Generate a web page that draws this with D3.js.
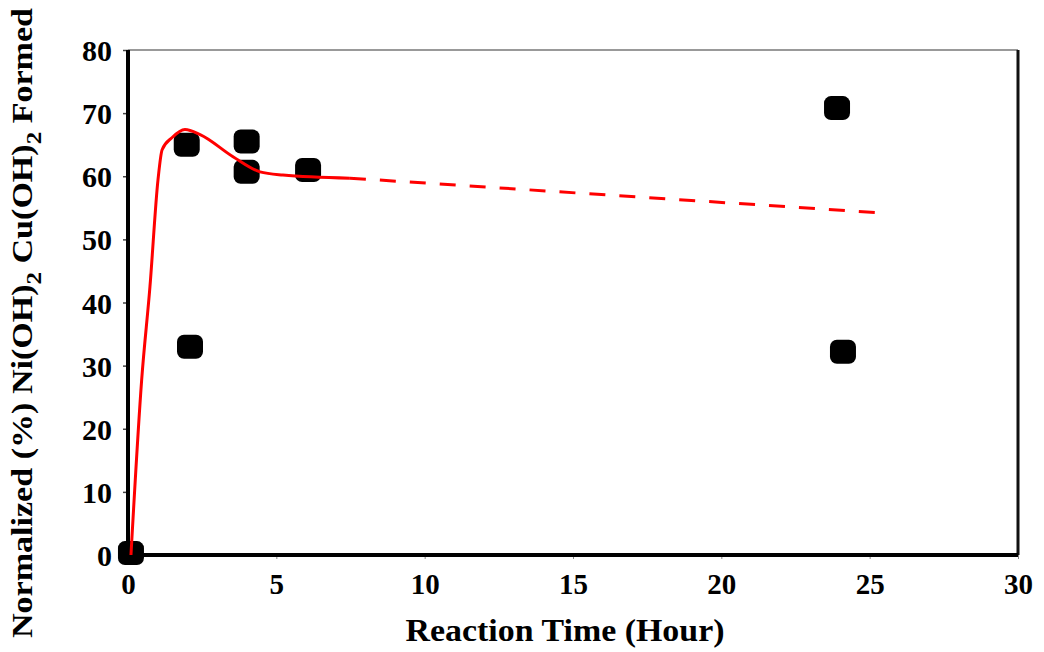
<!DOCTYPE html>
<html>
<head>
<meta charset="utf-8">
<script src="https://cdn.jsdelivr.net/npm/d3@7"></script>
<style>
	body { margin: 0; background: #fff; }
	text { font-family: "Liberation Serif", "Times New Roman", serif; font-weight: bold; }
</style>
</head>
<body>
<div id="chart-area"></div>
<script>
// measured points
const hours = [0.1, 1.98, 2.09, 4.0, 4.0, 6.07, 23.9, 24.1];
const formed = [0.3, 65, 33, 65.5, 60.7, 61, 70.8, 32.2];

// red fit curve, solid part
const fitHours = [0.1, 0.46, 0.74, 1.01, 1.15, 1.48, 1.92, 2.43, 3.54, 4.45, 5.22, 7.48];
const fitValues = [0, 27.7, 42.5, 59.4, 64.2, 66.1, 67.4, 66.6, 63.1, 60.7, 60.2, 59.7];
// dashed continuation
const dashHours = [7.48, 25.4];
const dashValues = [59.7, 54.2];

const xTicks = [0, 5, 10, 15, 20, 25, 30];
const yTicks = [0, 10, 20, 30, 40, 50, 60, 70, 80];

const svg = d3.select("#chart-area").append("svg")
	.attr("width", 1044)
	.attr("height", 652);

const x = d3.scaleLinear()
	.domain([0, 30])
	.range([128, 1018]);

const y = d3.scaleLinear()
	.domain([0, 80])
	.range([555, 50]);

// y axis
const yAxis = svg.append("g")
	.attr("transform", "translate(128,0)")
	.call(d3.axisLeft(y).tickValues(yTicks).tickSize(5).tickPadding(11));
yAxis.select(".domain").remove();
yAxis.selectAll("line").attr("stroke", "#444").attr("stroke-width", 1.5);
yAxis.selectAll("text")
	.attr("font-size", 30)
	.attr("font-family", "Liberation Serif, serif")
	.attr("font-weight", "bold")
	.attr("fill", "#000")
	.attr("dy", "0.35em");

// x axis
const xAxis = svg.append("g")
	.attr("transform", "translate(0,555)")
	.call(d3.axisBottom(x).tickValues(xTicks).tickSize(4).tickPadding(14));
xAxis.select(".domain").remove();
xAxis.selectAll("line").attr("stroke", "#888").attr("stroke-width", 1);
xAxis.selectAll("text")
	.attr("font-size", 29)
	.attr("font-family", "Liberation Serif, serif")
	.attr("font-weight", "bold")
	.attr("fill", "#000");

// frame
svg.append("line")
	.attr("x1", x(0)).attr("x2", x(30))
	.attr("y1", y(80)).attr("y2", y(80))
	.attr("stroke", "#999").attr("stroke-width", 2);
svg.append("line")
	.attr("x1", x(30)).attr("x2", x(30))
	.attr("y1", y(80)).attr("y2", y(0))
	.attr("stroke", "#111").attr("stroke-width", 3);
svg.append("line")
	.attr("x1", x(0)).attr("x2", x(30))
	.attr("y1", y(0)).attr("y2", y(0))
	.attr("stroke", "#000").attr("stroke-width", 4);
svg.append("line")
	.attr("x1", x(0)).attr("x2", x(0))
	.attr("y1", y(80)).attr("y2", y(0) + 2)
	.attr("stroke", "#000").attr("stroke-width", 4);

// markers
svg.selectAll(".pt")
	.data(hours)
	.enter()
	.append("rect")
	.attr("class", "pt")
	.attr("x", (d, i) => x(d) - 13)
	.attr("y", (d, i) => y(formed[i]) - 12)
	.attr("width", 26)
	.attr("height", 24)
	.attr("rx", 7)
	.attr("fill", "#000");

// fit line
const line = d3.line()
	.x(d => x(d[0]))
	.y(d => y(d[1]));

svg.append("path")
	.datum(fitHours.map((h, i) => [h, fitValues[i]]))
	.attr("d", line.curve(d3.curveMonotoneX))
	.attr("fill", "none")
	.attr("stroke", "#ff0000")
	.attr("stroke-width", 3);

svg.append("path")
	.datum(dashHours.map((h, i) => [h, dashValues[i]]))
	.attr("d", d3.line().x(d => x(d[0])).y(d => y(d[1])))
	.attr("fill", "none")
	.attr("stroke", "#ff0000")
	.attr("stroke-width", 3)
	.attr("stroke-dasharray", "16,14");

// titles
svg.append("text")
	.attr("x", 565)
	.attr("y", 641)
	.attr("text-anchor", "middle")
	.attr("font-size", 31)
	.attr("textLength", 319)
	.attr("lengthAdjust", "spacingAndGlyphs")
	.text("Reaction Time (Hour)");

const yt = svg.append("text")
	.attr("transform", "translate(32,323) rotate(-90)")
	.attr("text-anchor", "middle")
	.attr("font-size", 30)
	.attr("textLength", 630)
	.attr("lengthAdjust", "spacingAndGlyphs");
yt.append("tspan").text("Normalized (%) Ni(OH)");
yt.append("tspan").attr("dy", 9).attr("font-size", 22).text("2");
yt.append("tspan").attr("dy", -9).text(" Cu(OH)");
yt.append("tspan").attr("dy", 9).attr("font-size", 22).text("2");
yt.append("tspan").attr("dy", -9).text(" Formed");
</script>
</body>
</html>
